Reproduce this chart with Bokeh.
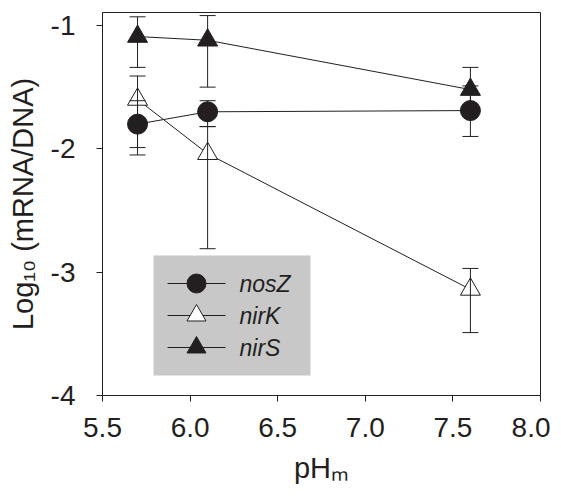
from bokeh.plotting import figure
from bokeh.models import ColumnDataSource, Whisker, TeeHead, FixedTicker, Range1d, BoxAnnotation
from bokeh.core.properties import value
from bokeh.embed import file_html
from bokeh.resources import INLINE

# ---- data ----
ph = [5.7, 6.1, 7.6]
nosZ = [-1.80, -1.70, -1.69]
nosZ_hi = [-1.61, -1.61, -1.49]
nosZ_lo = [-1.99, -1.82, -1.90]
nirK = [-1.60, -2.04, -3.14]
nirK_hi = [-1.41, -1.82, -2.97]
nirK_lo = [-2.05, -2.81, -3.49]
nirS = [-1.09, -1.12, -1.52]
nirS_hi = [-0.93, -0.92, -1.34]
nirS_lo = [-1.34, -1.50, -1.70]
x_ticks = [5.5, 6.0, 6.5, 7.0, 7.5, 8.0]
x_tick_labels = ["5.5", "6.0", "6.5", "7.0", "7.5", "8.0"]
y_ticks = [-4, -3, -2, -1]
y_tick_labels = ["-4", "-3", "-2", "-1"]
series_names = ["nosZ", "nirK", "nirS"]
x_title = "pH\u2098"
y_title = "Log\u2081\u2080 (mRNA/DNA)"

FONT = "Liberation Sans"
INK = "#231f20"
marker_types = {"nosZ": "circle", "nirK": "triangle", "nirS": "triangle"}
marker_fills = {"nosZ": INK, "nirK": "white", "nirS": INK}

W, H = 550, 492
FL, FR, FT, FB = 102, 540, 12, 395      # frame edges in canvas pixels
X0, X1 = 5.5, 8.0
Y0, Y1 = -4.0, -0.895

p = figure(width=W, height=H, x_range=Range1d(X0, X1), y_range=Range1d(Y0, Y1),
           output_backend="svg", toolbar_location=None,
           min_border_left=FL, min_border_right=W - FR, min_border_top=FT, min_border_bottom=H - FB)
p.grid.visible = False
p.outline_line_color = INK
p.outline_line_width = 1
p.background_fill_color = "white"
p.border_fill_color = "white"

for ax in (p.xaxis[0], p.yaxis[0]):
    ax.axis_line_color = INK
    ax.major_tick_line_color = INK
    ax.major_tick_in = 0
    ax.major_tick_out = 6
    ax.minor_tick_line_color = None
    ax.major_label_text_font = FONT
    ax.major_label_text_font_size = "28px"
    ax.major_label_text_color = INK
    ax.axis_label_text_font = FONT
    ax.axis_label_text_font_size = "29px"
    ax.axis_label_text_font_style = "normal"
    ax.axis_label_text_color = INK
p.xaxis.ticker = FixedTicker(ticks=x_ticks)
p.xaxis.major_label_overrides = dict(zip(x_ticks, x_tick_labels))
p.yaxis.ticker = FixedTicker(ticks=y_ticks)
p.yaxis.major_label_overrides = dict(zip(y_ticks, y_tick_labels))
p.xaxis.major_label_standoff = 16
p.yaxis.major_label_standoff = 21
p.xaxis.axis_label = x_title
p.yaxis.axis_label = y_title
p.xaxis.axis_label_standoff = 12
p.yaxis.axis_label_standoff = 9

src = ColumnDataSource(dict(x=ph, nosZ=nosZ, nosZ_hi=nosZ_hi, nosZ_lo=nosZ_lo,
                            nirK=nirK, nirK_hi=nirK_hi, nirK_lo=nirK_lo,
                            nirS=nirS, nirS_hi=nirS_hi, nirS_lo=nirS_lo))

for name in series_names:
    p.line("x", name, source=src, line_color=INK, line_width=1)

for name in series_names:
    p.add_layout(Whisker(base="x", upper=name + "_hi", lower=name + "_lo", source=src,
                         line_color=INK, line_width=1, level="glyph",
                         upper_head=TeeHead(size=16, line_color=INK, line_width=1),
                         lower_head=TeeHead(size=16, line_color=INK, line_width=1)))

for name in series_names:
    p.scatter("x", name, source=src, marker=marker_types[name], size=20,
              fill_color=marker_fills[name], line_color=INK, line_width=1)

# ---- legend (drawn by hand so its markers keep full size) ----
def dx(px):
    return X0 + (px - FL) * (X1 - X0) / (FR - FL)

def dy(py):
    return Y1 - (py - FT) * (Y1 - Y0) / (FB - FT)

p.add_layout(BoxAnnotation(left=dx(153), right=dx(310), top=dy(255), bottom=dy(375),
                           fill_color="#c8c8c8", fill_alpha=1.0, line_color=None,
                           level="underlay"))
rows = [dy(283 + 32 * i) for i in range(len(series_names))]
p.segment(x0=[dx(167)] * 3, x1=[dx(225)] * 3, y0=rows, y1=rows, line_color=INK, line_width=1)
p.scatter(x=[dx(196)] * 3, y=rows, marker=[marker_types[n] for n in series_names], size=19,
          fill_color=[marker_fills[n] for n in series_names], line_color=INK, line_width=1)
p.text(x=[dx(239)] * 3, y=rows, text=series_names, text_font=value(FONT),
       text_font_size="23px", text_font_style="italic", text_color=INK,
       text_baseline="middle", text_align="left")

open("out.html", "w").write(file_html(p, INLINE))
